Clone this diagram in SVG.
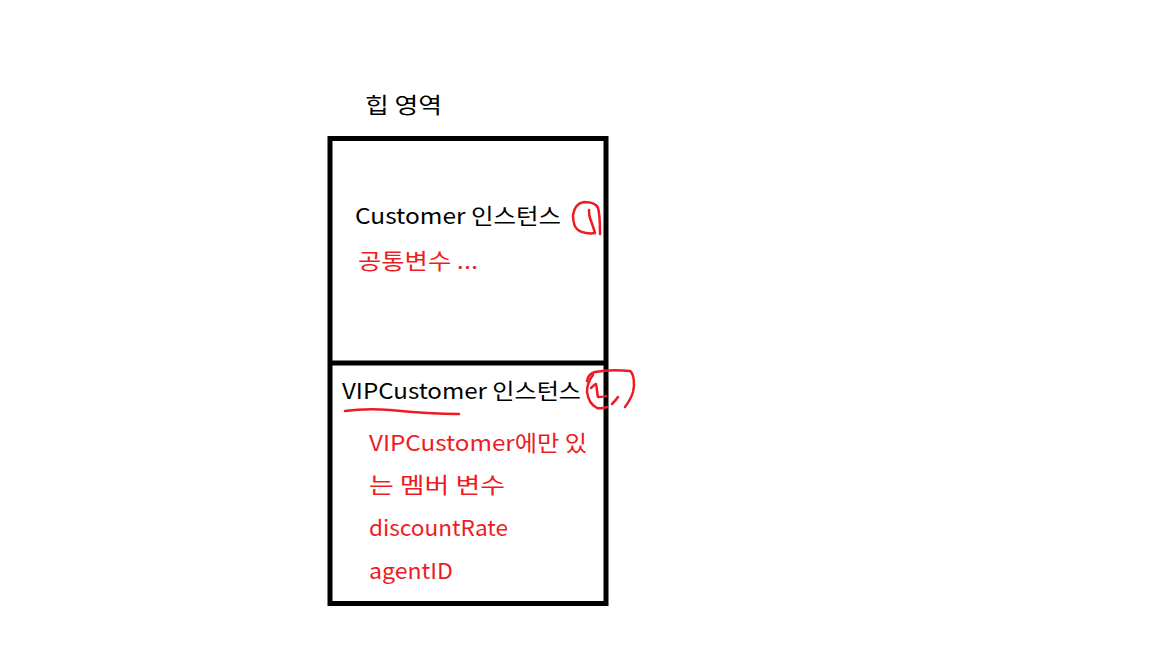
<svg xmlns="http://www.w3.org/2000/svg" width="1152" height="648" viewBox="0 0 1152 648">
<style>
.t{font-family:"Malgun Gothic","Noto Sans CJK KR",sans-serif;font-size:22px;fill:#000}
.r{fill:#ed1c24}
.box{fill:none;stroke:#000;stroke-width:5}
.pen{fill:none;stroke:#ed1c24;stroke-width:2.5;stroke-linecap:round;stroke-linejoin:round}
</style>
<rect width="1152" height="648" fill="#fff"/>
<g id="heap-label"><text class="t" x="365" y="113" textLength="77" lengthAdjust="spacingAndGlyphs">힙 영역</text></g>
<g id="heap">
<rect class="box" x="330" y="138.5" width="276" height="465"/>
<line class="box" x1="330" y1="363" x2="606" y2="363"/>
</g>
<g id="customer">
<text class="t" x="355" y="224" textLength="206" lengthAdjust="spacingAndGlyphs">Customer 인스턴스</text>
<text class="t r" x="358" y="269" textLength="120" lengthAdjust="spacingAndGlyphs">공통변수 ...</text>
</g>
<g id="vipcustomer">
<text class="t" x="342" y="399" textLength="239" lengthAdjust="spacingAndGlyphs">VIPCustomer 인스턴스</text>
<text class="t r" x="369" y="451" textLength="218" lengthAdjust="spacingAndGlyphs">VIPCustomer에만 있</text>
<text class="t r" x="369" y="493" textLength="136" lengthAdjust="spacingAndGlyphs">는 멤버 변수</text>
<text class="t r" x="369" y="536" textLength="139" lengthAdjust="spacingAndGlyphs">discountRate</text>
<text class="t r" x="369" y="579" textLength="84" lengthAdjust="spacingAndGlyphs">agentID</text>
</g>
<g id="annotations">
<path class="pen" d="M600,234 C600,224 600,214 598,208 C596,203 590,202 584,202 C578,203 574,208 573,215 C573,221 574,227 578,230 C582,233 590,234 595,233 C594,229 592,224 590,218 C589,215 589,212 589,210"/>
<path class="pen" d="M587,381 C588,376 590,373 595,372 C605,370 620,370 630,371 C634,374 635,384 633,392 C631,399 628,403 625,407"/>
<path class="pen" d="M593,375 C589,380 587,386 587,392 C588,399 591,405 597,408 C601,409 604,408 607,407"/>
<path class="pen" d="M591,388 C593,386 595,384 596,384 C597,388 597,393 598,397 C601,397 604,397 606,396"/>
<path class="pen" d="M618,397 C616,400 614,402 612,404"/>
<path class="pen" d="M345,411 C360,409 375,409 390,410 C410,412 435,414 459,414"/>
</g>
</svg>
